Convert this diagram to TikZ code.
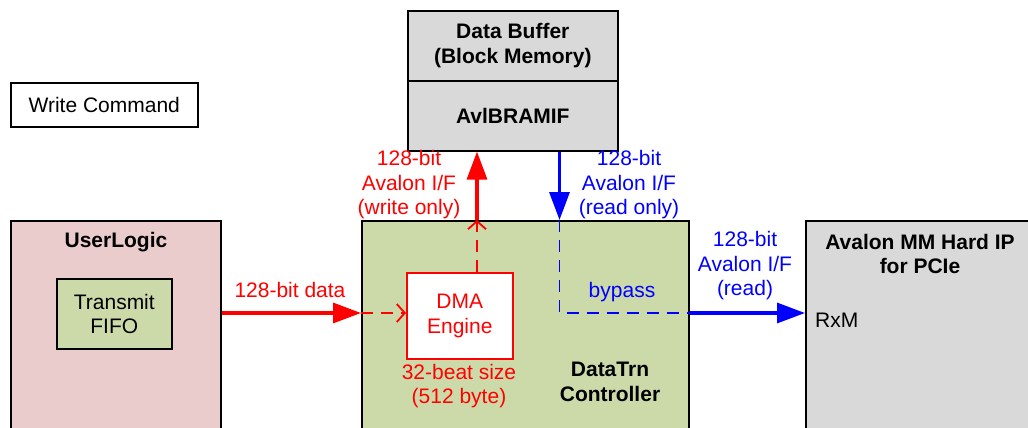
\documentclass[tikz,border=0pt]{standalone}
\usepackage{fontspec}
\setmainfont{Liberation Sans}
\usetikzlibrary{arrows.meta}
\definecolor{pinkfill}{RGB}{235,204,204}
\definecolor{greenfill}{RGB}{204,218,170}
\definecolor{grayfill}{RGB}{217,217,217}
\definecolor{lred}{RGB}{255,0,0}
\definecolor{lblue}{RGB}{0,0,255}
\begin{document}
\begin{tikzpicture}[x=1pt,y=-1pt,
  font=\fontsize{21}{24.5}\selectfont,
  box/.style={draw=black,line width=1.6pt,inner sep=0pt,anchor=north west,align=center},
  txt/.style={align=center,inner sep=0pt},
  bold/.style={txt,font=\fontsize{21}{24.5}\selectfont\bfseries},
  thickred/.style={draw=lred,line width=3.2pt,-{Triangle[length=28pt,width=20pt]}},
  thickblue/.style={draw=lblue,line width=3.2pt,-{Triangle[length=28pt,width=20pt]}},
  dashred/.style={draw=lred,line width=1.8pt,dash pattern=on 12pt off 8pt},
  dashblue/.style={draw=lblue,line width=1.8pt,dash pattern=on 12pt off 8pt},
  barb/.style={-{Straight Barb[length=8pt,width=18pt,line width=1.8pt]}}]
\useasboundingbox (0,0) rectangle (1028,428);
\clip (0,0) rectangle (1028,428);

% blocks
\node[box,fill=white,minimum width=187pt,minimum height=44pt] (wc) at (10,82) {Write Command};
\node[box,fill=grayfill,minimum width=210pt,minimum height=70pt,font=\fontsize{21}{24.5}\selectfont\bfseries] (dbt) at (407,10) {Data Buffer\\(Block Memory)};
\node[box,fill=grayfill,minimum width=210pt,minimum height=70pt,font=\fontsize{21}{24.5}\selectfont\bfseries] (dbb) at (407,80) {AvlBRAMIF};
\node[box,fill=pinkfill,minimum width=210pt,minimum height=260pt] (ul) at (10,220) {};
\node[bold] (ultxt) at (116,242) {UserLogic};
\node[box,fill=greenfill,minimum width=115pt,minimum height=70pt] (fifo) at (56,278) {Transmit\\FIFO};
\node[box,fill=greenfill,minimum width=327pt,minimum height=260pt] (dt) at (361,220) {};
\node[bold] (dttxt) at (610,382) {DataTrn\\Controller};
\node[box,draw=lred,fill=white,text=lred,minimum width=106pt,minimum height=86pt] (dma) at (406,272) {DMA\\Engine};
\node[txt,text=lred] (beat) at (459,386) {32-beat size\\(512 byte)};
\node[box,fill=grayfill,minimum width=260pt,minimum height=260pt] (hip) at (805,220) {};
\node[bold] (hiptxt) at (920,254) {Avalon MM Hard IP\\for PCIe};
\node[txt,anchor=west] (rxm) at (815,320) {RxM};

% reference points for the connectors
\coordinate (lvl) at (0,313);
\coordinate (up) at (477,0);
\coordinate (dn) at (559.5,0);

% write path
\draw[thickred] (ul.east |- lvl) -- (dt.west |- lvl);
\draw[dashred,barb] (dt.west |- lvl) -- (dma.west |- lvl);
\draw[dashred,barb] (up |- dma.north) -- (up |- dt.north);
\draw[thickred] (up |- dt.north) -- (up |- dbb.south);

% read / bypass path
\draw[thickblue] (dn |- dbb.south) -- (dn |- dt.north);
\draw[dashblue] (dn |- dt.north) -- (dn |- lvl) -- (dt.east |- lvl);
\draw[thickblue] (dt.east |- lvl) -- (hip.west |- lvl);

% labels
\node[txt,text=lred] (lw) at (409,185) {128-bit\\Avalon I/F\\(write only)};
\node[txt,text=lred] (ld) at (290,290) {128-bit data};
\node[txt,text=lblue] (lr) at (629,185) {128-bit\\Avalon I/F\\(read only)};
\node[txt,text=lblue] (lb) at (622,292) {bypass};
\node[txt,text=lblue] (lrd) at (745,266) {128-bit\\Avalon I/F\\(read)};
\end{tikzpicture}
\end{document}
